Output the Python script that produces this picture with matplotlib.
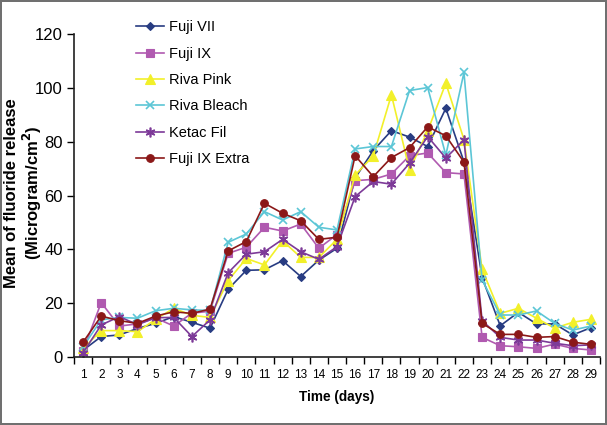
import matplotlib
matplotlib.use("Agg")
import matplotlib.pyplot as plt
from matplotlib.ticker import FixedLocator

plt.rcParams['font.family'] = ['Liberation Sans', 'DejaVu Sans']

days = list(range(1, 30))
day_labels = [str(d) for d in days]

fuji_vii = [2.5, 7.6, 8.2, 10.6, 12.5, 15.0, 12.9, 10.7, 25.2, 32.2,
            32.4, 35.8, 29.9, 36.0, 40.4, 66.5, 76.7, 84.1, 81.7, 78.2,
            92.4, 72.5, 29.5, 11.6, 16.6, 12.3, 12.3, 8.2, 10.9]
fuji_ix = [2.3, 20.2, 11.5, 12.3, 14.5, 11.5, 16.3, 17.0, 38.5, 40.8,
           48.2, 46.8, 49.4, 40.4, 45.5, 65.5, 66.0, 68.0, 74.8, 75.8,
           68.5, 68.0, 7.3, 4.2, 3.8, 3.2, 4.8, 3.2, 2.6]
riva_pink = [3.2, 9.8, 9.8, 9.4, 14.0, 18.1, 15.5, 14.7, 28.4, 36.6,
             34.2, 43.2, 37.0, 37.0, 43.7, 67.6, 74.7, 97.4, 69.5, 84.0,
             101.7, 80.8, 32.6, 16.2, 18.1, 14.4, 10.7, 12.9, 14.0]
riva_bleach = [3.8, 13.8, 14.7, 14.4, 17.2, 18.1, 17.5, 17.3, 42.6, 45.7,
               54.0, 50.9, 54.0, 48.2, 47.2, 77.3, 78.2, 78.2, 99.0, 100.1,
               75.0, 105.7, 28.6, 15.6, 15.6, 17.1, 12.5, 10.0, 11.5]
ketac_fil = [1.6, 11.9, 15.0, 12.0, 14.6, 14.7, 7.6, 13.8, 31.3, 38.2,
             39.1, 43.7, 39.1, 36.3, 41.0, 59.6, 65.2, 64.2, 72.0, 81.9,
             73.9, 80.7, 13.5, 7.3, 6.3, 6.3, 5.1, 4.2, 4.5]
fuji_ix_extra = [5.5, 15.2, 13.5, 12.5, 15.2, 16.8, 16.2, 17.8, 39.4, 42.9,
                 57.1, 53.4, 50.6, 43.7, 44.5, 74.8, 67.0, 74.1, 77.8, 85.5,
                 82.2, 72.4, 12.5, 8.4, 8.4, 7.3, 7.6, 5.5, 4.7]

series = [
    ("Fuji VII", fuji_vii, "#283C82", "D", 4.5),
    ("Fuji IX", fuji_ix, "#B05AB0", "s", 5.5),
    ("Riva Pink", riva_pink, "#F2F02A", "^", 6.5),
    ("Riva Bleach", riva_bleach, "#5CC6D6", "x", 6),
    ("Ketac Fil", ketac_fil, "#7D3A98", (6, 2, 0), 7),
    ("Fuji IX Extra", fuji_ix_extra, "#8B1818", "o", 5.5),
]

fig = plt.figure(figsize=(6.07, 4.25), dpi=100)
fig.patch.set_edgecolor("#707070")
fig.patch.set_linewidth(1.5)
ax = fig.add_axes([74/607, 1-357/425, (600-74)/607, (357-34)/425])

for name, vals, col, mk, ms in series:
    ax.plot(days, vals, color=col, marker=mk, markersize=ms, linewidth=1.2,
            markeredgewidth=1.2 if mk in ("x", (6, 2, 0)) else 0.8,
            markeredgecolor=col, markerfacecolor=col, label=name)

ax.set_xlim(0.5, 29.5)
ax.set_ylim(0, 120)
ax.set_yticks([0, 20, 40, 60, 80, 100, 120])
ax.set_xticks(days)
ax.set_xticklabels(day_labels)
ax.xaxis.set_minor_locator(FixedLocator([d + 0.5 for d in range(0, 30)]))
ax.tick_params(axis='x', which='major', length=0, labelsize=8.5, pad=9)
ax.tick_params(axis='x', which='minor', length=5, direction='out', width=1)
ax.tick_params(axis='y', which='major', length=5, direction='out', width=1,
               labelsize=12, pad=3)
for s in ("top", "right"):
    ax.spines[s].set_visible(False)
for s in ("left", "bottom"):
    ax.spines[s].set_linewidth(1.2)
    ax.spines[s].set_color("#202020")

ax.set_xlabel("Time (days)", fontsize=9.8, fontweight='bold', labelpad=6)
fig.text(24/607, 1-193/425, "Mean of fluoride release\n(Microgram/cm$^\\mathbf{2}$)",
         rotation=90, ha='center', va='center', multialignment='center',
         fontsize=12, fontweight='bold', linespacing=1.05)

leg = fig.legend(loc='upper left', bbox_to_anchor=(129/607, 1-13/425),
                 frameon=False, fontsize=10.5, borderpad=0, labelspacing=0.85,
                 handlelength=1.9, handletextpad=0.35)

fig.savefig("out.png", dpi=100)
